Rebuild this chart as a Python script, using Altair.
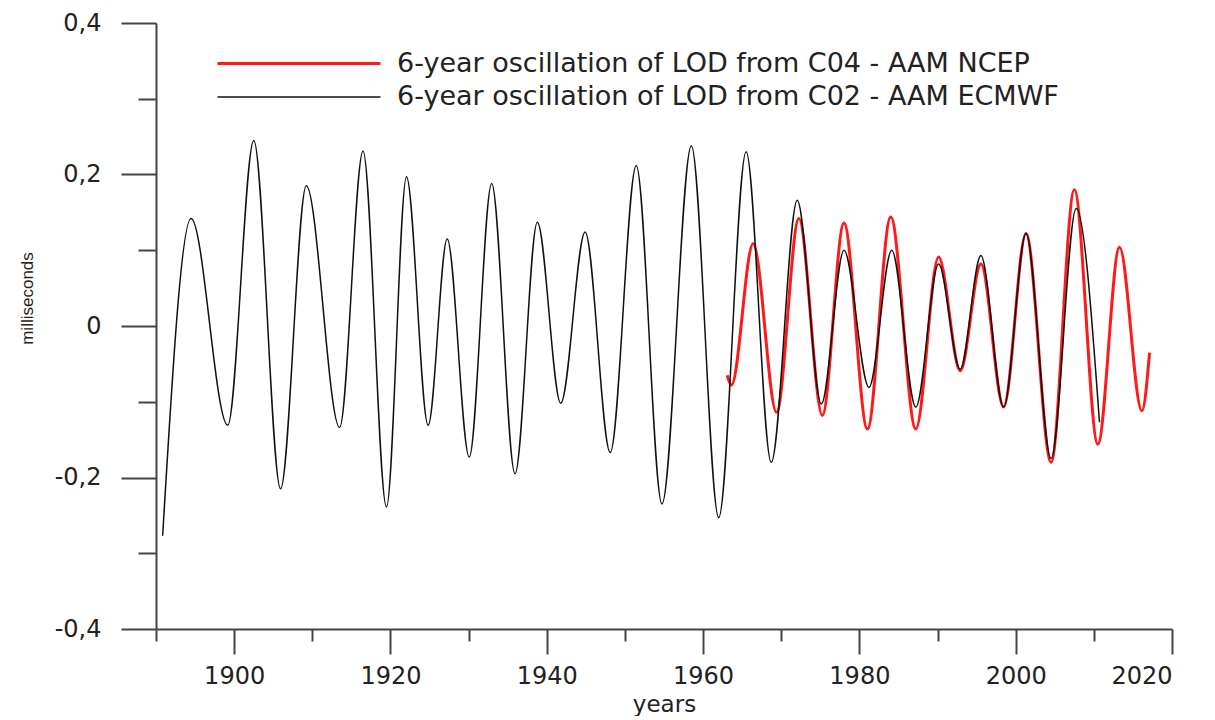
import altair as alt
import pandas as pd

# turning points of each curve (year, milliseconds)
black_years = [1890.85, 1894.49, 1899.18, 1902.51, 1905.94, 1909.23, 1913.50, 1916.49,
               1919.49, 1922.05, 1924.82, 1927.26, 1930.08, 1932.95, 1935.94, 1938.79,
               1941.79, 1944.91, 1948.12, 1951.45, 1954.74, 1958.50, 1962.00, 1965.51,
               1968.72, 1972.05, 1975.13, 1978.03, 1981.23, 1984.14, 1987.22, 1990.13,
               1992.90, 1995.55, 1998.46, 2001.32, 2004.53, 2007.74, 2010.72]
black_ms = [-0.277, 0.142, -0.131, 0.245, -0.215, 0.185, -0.134, 0.231,
            -0.239, 0.197, -0.131, 0.115, -0.173, 0.188, -0.195, 0.137,
            -0.102, 0.124, -0.167, 0.212, -0.235, 0.238, -0.253, 0.230,
            -0.180, 0.166, -0.103, 0.100, -0.081, 0.100, -0.107, 0.082,
            -0.057, 0.093, -0.107, 0.122, -0.175, 0.155, -0.127]

red_years = [1963.08, 1963.63, 1966.41, 1969.40, 1972.26, 1975.26, 1978.03, 1981.03,
             1984.01, 1987.22, 1990.13, 1992.90, 1995.55, 1998.46, 2001.32, 2004.53,
             2007.51, 2010.51, 2013.28, 2016.15, 2017.13]
red_ms = [-0.065, -0.078, 0.109, -0.114, 0.142, -0.118, 0.136, -0.136,
          0.144, -0.136, 0.091, -0.059, 0.082, -0.107, 0.122, -0.180,
          0.180, -0.156, 0.104, -0.112, -0.035]

red_label = "6-year oscillation of LOD from C04 - AAM NCEP"
black_label = "6-year oscillation of LOD from C02 - AAM ECMWF"

x_ticks = list(range(1890, 2021, 10))
y_ticks = [-0.4, -0.3, -0.2, -0.1, 0.0, 0.1, 0.2, 0.3, 0.4]

black_df = pd.DataFrame({"year": black_years, "ms": black_ms, "series": black_label})
red_df = pd.DataFrame({"year": red_years, "ms": red_ms, "series": red_label})

legend = alt.Legend(
    title=None, orient="none", legendX=60, legendY=25, padding=0,
    symbolType="stroke", symbolSize=163 ** 2, clipHeight=31, rowPadding=2.5,
    labelOffset=15, labelFont="DejaVu Sans", labelFontSize=27,
    labelColor="#222222", labelLimit=1000,
)

x = alt.X(
    "year:Q",
    scale=alt.Scale(domain=[1890, 2020], nice=False, zero=False),
    axis=alt.Axis(
        title="years", values=x_ticks, format="d",
        labelExpr="datum.value % 20 == 0 ? datum.label : ''",
        tickSize={"condition": {"test": "datum.value % 20 == 0", "value": 25}, "value": 12},
        labelPadding=10, titlePadding=5, labelFontSize=24,
    ),
)
y = alt.Y(
    "ms:Q",
    scale=alt.Scale(domain=[-0.4, 0.4], nice=False, zero=False),
    axis=alt.Axis(
        title="milliseconds", values=y_ticks,
        labelExpr="round(abs(datum.value) * 10) % 2 == 1 ? '' : "
                  "(abs(datum.value) < 0.001 ? '0' : (datum.value < 0 ? '-' : '') + '0,' + round(abs(datum.value) * 10))",
        tickSize={"condition": {"test": "round(abs(datum.value) * 10) % 2 == 0", "value": 35}, "value": 18},
        labelPadding=20, titlePadding=18, labelFontSize=24, titleY=275,
        titleFont="Liberation Sans", titleFontSize=17, titleFontWeight="normal",
    ),
)
color = alt.Color(
    "series:N",
    scale=alt.Scale(domain=[red_label, black_label], range=["#ff1a1a", "#111111"]),
    legend=legend,
)
stroke_w = alt.StrokeWidth(
    "series:N",
    scale=alt.Scale(domain=[red_label, black_label], range=[3, 1.5]),
    legend=legend,
)

red_line = alt.Chart(red_df).mark_line(interpolate="monotone").encode(
    x=x, y=y, color=color, strokeWidth=stroke_w
)
black_line = alt.Chart(black_df).mark_line(interpolate="monotone").encode(
    x=x, y=y, color=color, strokeWidth=stroke_w
)

chart = alt.layer(red_line, black_line).properties(
    width=1016, height=606,
    padding={"left": 10, "top": 3, "right": 5, "bottom": 0},
).configure_view(
    strokeWidth=0
).configure_axis(
    grid=False, domainColor="#444444", domainWidth=2, tickColor="#444444", tickWidth=2,
    labelFont="DejaVu Sans", labelColor="#222222", titleFont="DejaVu Sans",
    titleFontSize=23, titleFontWeight="normal", titleColor="#222222",
)

chart.save("out.html", embed_options={"renderer": "svg", "actions": False})
